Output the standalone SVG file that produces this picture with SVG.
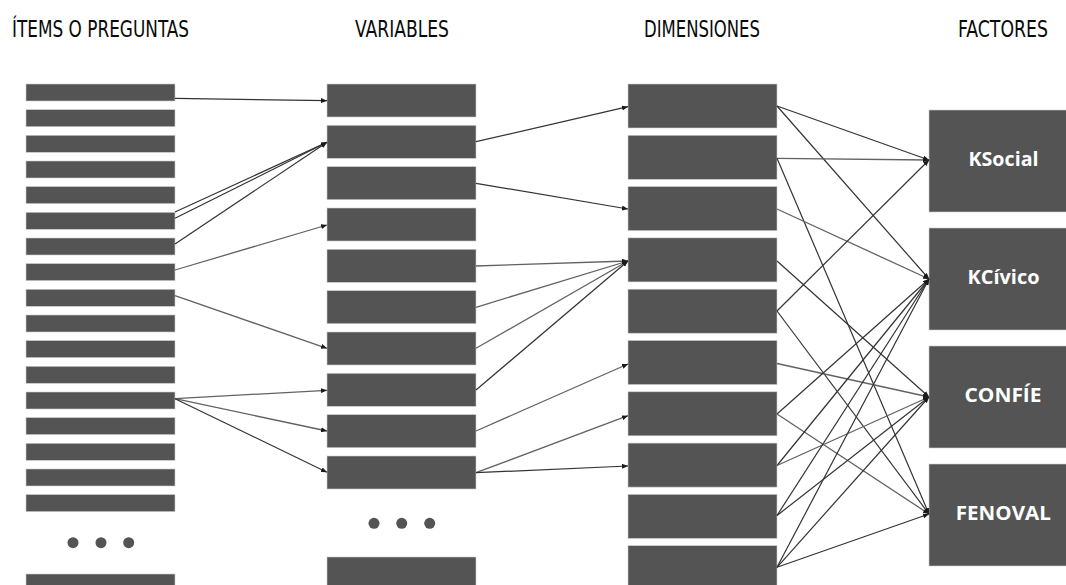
<svg xmlns="http://www.w3.org/2000/svg" width="1066" height="585" viewBox="0 0 1066 585">
<style>
.hdr{font-family:"Liberation Sans Narrow","DejaVu Sans Condensed","Liberation Sans",sans-serif;font-size:23px;fill:#0a0a0a;}
.bar{fill:#545454;stroke:#c8ccc8;stroke-width:0.6;}
.fac{fill:#545454;stroke:#c8ccc8;stroke-width:0.6;}
.flbl{font-family:"Open Sans","Liberation Sans",sans-serif;font-weight:700;font-size:19px;fill:#ffffff;text-anchor:middle;}
.dot{fill:#545454;}
.c{stroke:#333333;stroke-width:1.2;fill:none;marker-end:url(#ah);}
.cl{stroke:#626262;stroke-width:1.3;fill:none;marker-end:url(#ah);}
</style>
<defs>
<marker id="ah" markerUnits="userSpaceOnUse" markerWidth="6" markerHeight="5" refX="6" refY="2.5" orient="auto">
<path d="M0,0 L6,2.5 L0,5 z" fill="#1a1a1a"/>
</marker>
</defs>
<rect width="1066" height="585" fill="#ffffff"/>

<g id="headers">
<text class="hdr" x="12" y="37" textLength="177" lengthAdjust="spacingAndGlyphs">ÍTEMS O PREGUNTAS</text>
<text class="hdr" x="355" y="37" textLength="94" lengthAdjust="spacingAndGlyphs">VARIABLES</text>
<text class="hdr" x="644" y="37" textLength="116" lengthAdjust="spacingAndGlyphs">DIMENSIONES</text>
<text class="hdr" x="958" y="37" textLength="90" lengthAdjust="spacingAndGlyphs">FACTORES</text>
</g>

<g id="items">
<rect class="bar" x="26" y="84" width="149" height="17"/>
<rect class="bar" x="26" y="109.7" width="149" height="17"/>
<rect class="bar" x="26" y="135.3" width="149" height="17"/>
<rect class="bar" x="26" y="161" width="149" height="17"/>
<rect class="bar" x="26" y="186.6" width="149" height="17"/>
<rect class="bar" x="26" y="212.3" width="149" height="17"/>
<rect class="bar" x="26" y="238" width="149" height="17"/>
<rect class="bar" x="26" y="263.6" width="149" height="17"/>
<rect class="bar" x="26" y="289.3" width="149" height="17"/>
<rect class="bar" x="26" y="315" width="149" height="17"/>
<rect class="bar" x="26" y="340.6" width="149" height="17"/>
<rect class="bar" x="26" y="366.3" width="149" height="17"/>
<rect class="bar" x="26" y="392" width="149" height="17"/>
<rect class="bar" x="26" y="417.6" width="149" height="17"/>
<rect class="bar" x="26" y="443.3" width="149" height="17"/>
<rect class="bar" x="26" y="469" width="149" height="17"/>
<rect class="bar" x="26" y="494.6" width="149" height="17"/>
<circle class="dot" cx="73" cy="542.7" r="5.5"/>
<circle class="dot" cx="101" cy="542.7" r="5.5"/>
<circle class="dot" cx="128.7" cy="542.7" r="5.5"/>
<rect class="bar" x="26" y="574" width="149" height="17"/>
</g>

<g id="variables">
<rect class="bar" x="327" y="84" width="149" height="33"/>
<rect class="bar" x="327" y="125.3" width="149" height="33"/>
<rect class="bar" x="327" y="166.7" width="149" height="33"/>
<rect class="bar" x="327" y="208" width="149" height="33"/>
<rect class="bar" x="327" y="249.3" width="149" height="33"/>
<rect class="bar" x="327" y="290.7" width="149" height="33"/>
<rect class="bar" x="327" y="332" width="149" height="33"/>
<rect class="bar" x="327" y="373.3" width="149" height="33"/>
<rect class="bar" x="327" y="414.7" width="149" height="33"/>
<rect class="bar" x="327" y="456" width="149" height="33"/>
<circle class="dot" cx="374" cy="523.3" r="5.5"/>
<circle class="dot" cx="401.7" cy="523.3" r="5.5"/>
<circle class="dot" cx="429.7" cy="523.3" r="5.5"/>
<rect class="bar" x="327" y="557" width="149" height="33"/>
</g>

<g id="dimensions">
<rect class="bar" x="628" y="84" width="149" height="44"/>
<rect class="bar" x="628" y="135.3" width="149" height="44"/>
<rect class="bar" x="628" y="186.6" width="149" height="44"/>
<rect class="bar" x="628" y="237.9" width="149" height="44"/>
<rect class="bar" x="628" y="289.2" width="149" height="44"/>
<rect class="bar" x="628" y="340.5" width="149" height="44"/>
<rect class="bar" x="628" y="391.8" width="149" height="44"/>
<rect class="bar" x="628" y="443.1" width="149" height="44"/>
<rect class="bar" x="628" y="494.4" width="149" height="44"/>
<rect class="bar" x="628" y="545.7" width="149" height="44"/>
</g>

<g id="factor-ksocial">
<rect class="fac" x="929" y="110" width="138" height="102"/>
<text class="flbl" x="1003.5" y="166" textLength="70" lengthAdjust="spacingAndGlyphs">KSocial</text>
</g>
<g id="factor-kcivico">
<rect class="fac" x="929" y="228" width="138" height="102"/>
<text class="flbl" x="1003.5" y="284" textLength="72" lengthAdjust="spacingAndGlyphs">KCívico</text>
</g>
<g id="factor-confie">
<rect class="fac" x="929" y="346" width="138" height="102"/>
<text class="flbl" x="1003" y="402.3" textLength="77" lengthAdjust="spacingAndGlyphs">CONFÍE</text>
</g>
<g id="factor-fenoval">
<rect class="fac" x="929" y="464" width="138" height="102"/>
<text class="flbl" x="1003.3" y="520" textLength="95" lengthAdjust="spacingAndGlyphs">FENOVAL</text>
</g>

<g id="connectors">
<line class="c" x1="175" y1="98.3" x2="327" y2="100.7"/>
<line class="c" x1="175" y1="212" x2="327" y2="142.3"/>
<line class="c" x1="175" y1="218.3" x2="327" y2="142.3"/>
<line class="c" x1="175" y1="244" x2="327" y2="142.3"/>
<line class="cl" x1="175" y1="270" x2="327" y2="225"/>
<line class="cl" x1="175" y1="295.7" x2="327" y2="348.3"/>
<line class="cl" x1="175" y1="398.7" x2="327" y2="390.3"/>
<line class="cl" x1="175" y1="398.7" x2="327" y2="431"/>
<line class="c" x1="175" y1="398.7" x2="327" y2="472.3"/>

<line class="c" x1="476" y1="141.7" x2="628" y2="106.7"/>
<line class="c" x1="476" y1="183.3" x2="628" y2="209"/>
<line class="cl" x1="476" y1="266" x2="628" y2="261"/>
<line class="cl" x1="476" y1="307.3" x2="628" y2="261"/>
<line class="cl" x1="476" y1="348.3" x2="628" y2="261"/>
<line class="c" x1="476" y1="390" x2="628" y2="261"/>
<line class="cl" x1="476" y1="431" x2="628" y2="364"/>
<line class="cl" x1="476" y1="472.7" x2="628" y2="415.7"/>
<line class="c" x1="476" y1="472.7" x2="628" y2="466"/>

<line class="c" x1="777" y1="106" x2="929" y2="160"/>
<line class="c" x1="777" y1="106" x2="929" y2="279"/>
<line class="cl" x1="777" y1="158.3" x2="929" y2="160"/>
<line class="c" x1="777" y1="158.3" x2="929" y2="514"/>
<line class="cl" x1="777" y1="209" x2="929" y2="279"/>
<line class="c" x1="777" y1="261" x2="929" y2="397"/>
<line class="c" x1="777" y1="311" x2="929" y2="160"/>
<line class="c" x1="777" y1="311" x2="929" y2="514"/>
<line class="cl" x1="777" y1="363.5" x2="929" y2="397"/>
<line class="c" x1="777" y1="414" x2="929" y2="279"/>
<line class="cl" x1="777" y1="414" x2="929" y2="514"/>
<line class="c" x1="777" y1="465.5" x2="929" y2="279"/>
<line class="cl" x1="777" y1="465.5" x2="929" y2="397"/>
<line class="c" x1="777" y1="515.5" x2="929" y2="279"/>
<line class="c" x1="777" y1="515.5" x2="929" y2="397"/>
<line class="c" x1="777" y1="567.3" x2="929" y2="279"/>
<line class="c" x1="777" y1="567.3" x2="929" y2="397"/>
<line class="c" x1="777" y1="567.3" x2="929" y2="514"/>
</g>
</svg>
